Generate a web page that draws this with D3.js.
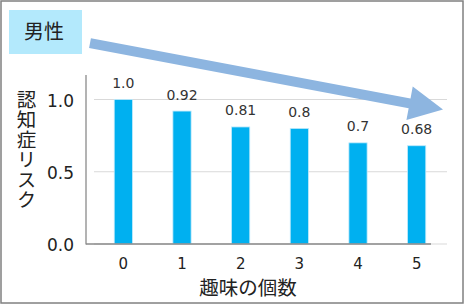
<!DOCTYPE html>
<html><head><meta charset="utf-8">
<script src="https://cdn.jsdelivr.net/npm/d3@7"></script>
<style>html,body{margin:0;padding:0;background:#fff;}svg{display:block;}</style>
</head><body>
<svg id="c" width="466" height="305"></svg>
<script>
const categories = ["0","1","2","3","4","5"];
const values = [1.0, 0.92, 0.81, 0.8, 0.7, 0.68];
const valueLabels = ["1.0","0.92","0.81","0.8","0.7","0.68"];
const yTicks = [0, 0.5, 1.0];
const yTickLabels = ["0.0","0.5","1.0"];
const groupLabel = "男性";
const xTitle = "趣味の個数";
const yTitle = "認知症リスク";
const arrowFrom = 1.39, arrowTo = 0.93; // value levels of the trend arrow

const svg = d3.select("#c");
const font = "'Noto Sans CJK JP','Noto Sans',sans-serif";
const numFont = "'DejaVu Sans',sans-serif";

svg.append("rect").attr("x",1).attr("y",1).attr("width",462).attr("height",302)
  .attr("fill","#fff").attr("stroke","#808080").attr("stroke-width",1.5);

const x = d3.scaleBand().domain(categories).range([94,446]).paddingInner(0.69).paddingOuter(0.345);
const y = d3.scaleLinear().domain([0,1]).range([244,99.5]);

// gridlines
svg.append("g").selectAll("line").data(yTicks).join("line")
  .attr("x1",94).attr("x2",447).attr("y1",d=>y(d)).attr("y2",d=>y(d))
  .attr("stroke","#d9d9d9").attr("stroke-width",1);

// bars
svg.append("g").selectAll("rect").data(values).join("rect")
  .attr("x",(d,i)=>x(categories[i])).attr("width",x.bandwidth())
  .attr("y",d=>y(d)).attr("height",d=>y(0)-y(d))
  .attr("fill","#00b0f0").attr("stroke","#bfe9fb").attr("stroke-width",0.8);

// axes lines
svg.append("line").attr("x1",86).attr("x2",86).attr("y1",75).attr("y2",y(0)+0.5)
  .attr("stroke","#8a8a8a").attr("stroke-width",1.3);
svg.append("line").attr("x1",86).attr("x2",431).attr("y1",y(0)).attr("y2",y(0))
  .attr("stroke","#8a8a8a").attr("stroke-width",1.3);

// y tick labels
svg.append("g").selectAll("text").data(yTicks).join("text")
  .attr("x",74).attr("y",d=>y(d)+7).attr("text-anchor","end")
  .attr("font-family",numFont).attr("font-size",17).attr("fill","#222")
  .text((d,i)=>yTickLabels[i]);

// x tick labels
svg.append("g").selectAll("text").data(categories).join("text")
  .attr("x",d=>x(d)+x.bandwidth()/2).attr("y",268.5).attr("text-anchor","middle")
  .attr("font-family",numFont).attr("font-size",15).attr("fill","#222")
  .text(d=>d);

// value labels
svg.append("g").selectAll("text").data(values).join("text")
  .attr("x",(d,i)=>x(categories[i])+x.bandwidth()/2).attr("y",d=>y(d)-11.5).attr("text-anchor","middle")
  .attr("font-family",numFont).attr("font-size",14).attr("fill","#333")
  .text((d,i)=>valueLabels[i]);

// x title
svg.append("text").attr("x",248).attr("y",294.5).attr("text-anchor","middle")
  .attr("font-family",font).attr("font-size",19.5).attr("fill","#222").text(xTitle);

// y title vertical
svg.append("text").attr("x",26.5).attr("y",90)
  .style("writing-mode","vertical-rl").style("text-orientation","upright")
  .attr("letter-spacing",0.5)
  .attr("font-family",font).attr("font-size",19.5).attr("fill","#222").text(yTitle);

// group label box
svg.append("rect").attr("x",9).attr("y",10).attr("width",73).attr("height",44).attr("fill","#b3e9fc");
svg.append("text").attr("x",44).attr("y",38.5).attr("text-anchor","middle")
  .attr("font-family",font).attr("font-size",20).attr("fill","#222").text(groupLabel);

// trend arrow
(function(){
  const x0 = 90, y0 = y(arrowFrom);
  const x1 = 443, y1 = y(arrowTo);
  const dx = x1-x0, dy = y1-y0, L = Math.hypot(dx,dy);
  const ux = dx/L, uy = dy/L, nx = -uy, ny = ux;
  const hw = 5, headW = 17, headL = 34;
  const bx = x1-ux*headL, by = y1-uy*headL;
  const pts = [
    [x0+nx*hw, y0+ny*hw],[bx+nx*hw, by+ny*hw],[bx+nx*headW, by+ny*headW],[x1,y1],
    [bx-nx*headW, by-ny*headW],[bx-nx*hw, by-ny*hw],[x0-nx*hw, y0-ny*hw]];
  svg.append("polygon").attr("points",pts.map(p=>p.join(",")).join(" ")).attr("fill","#8db5e0");
})();
</script>
</body></html>
